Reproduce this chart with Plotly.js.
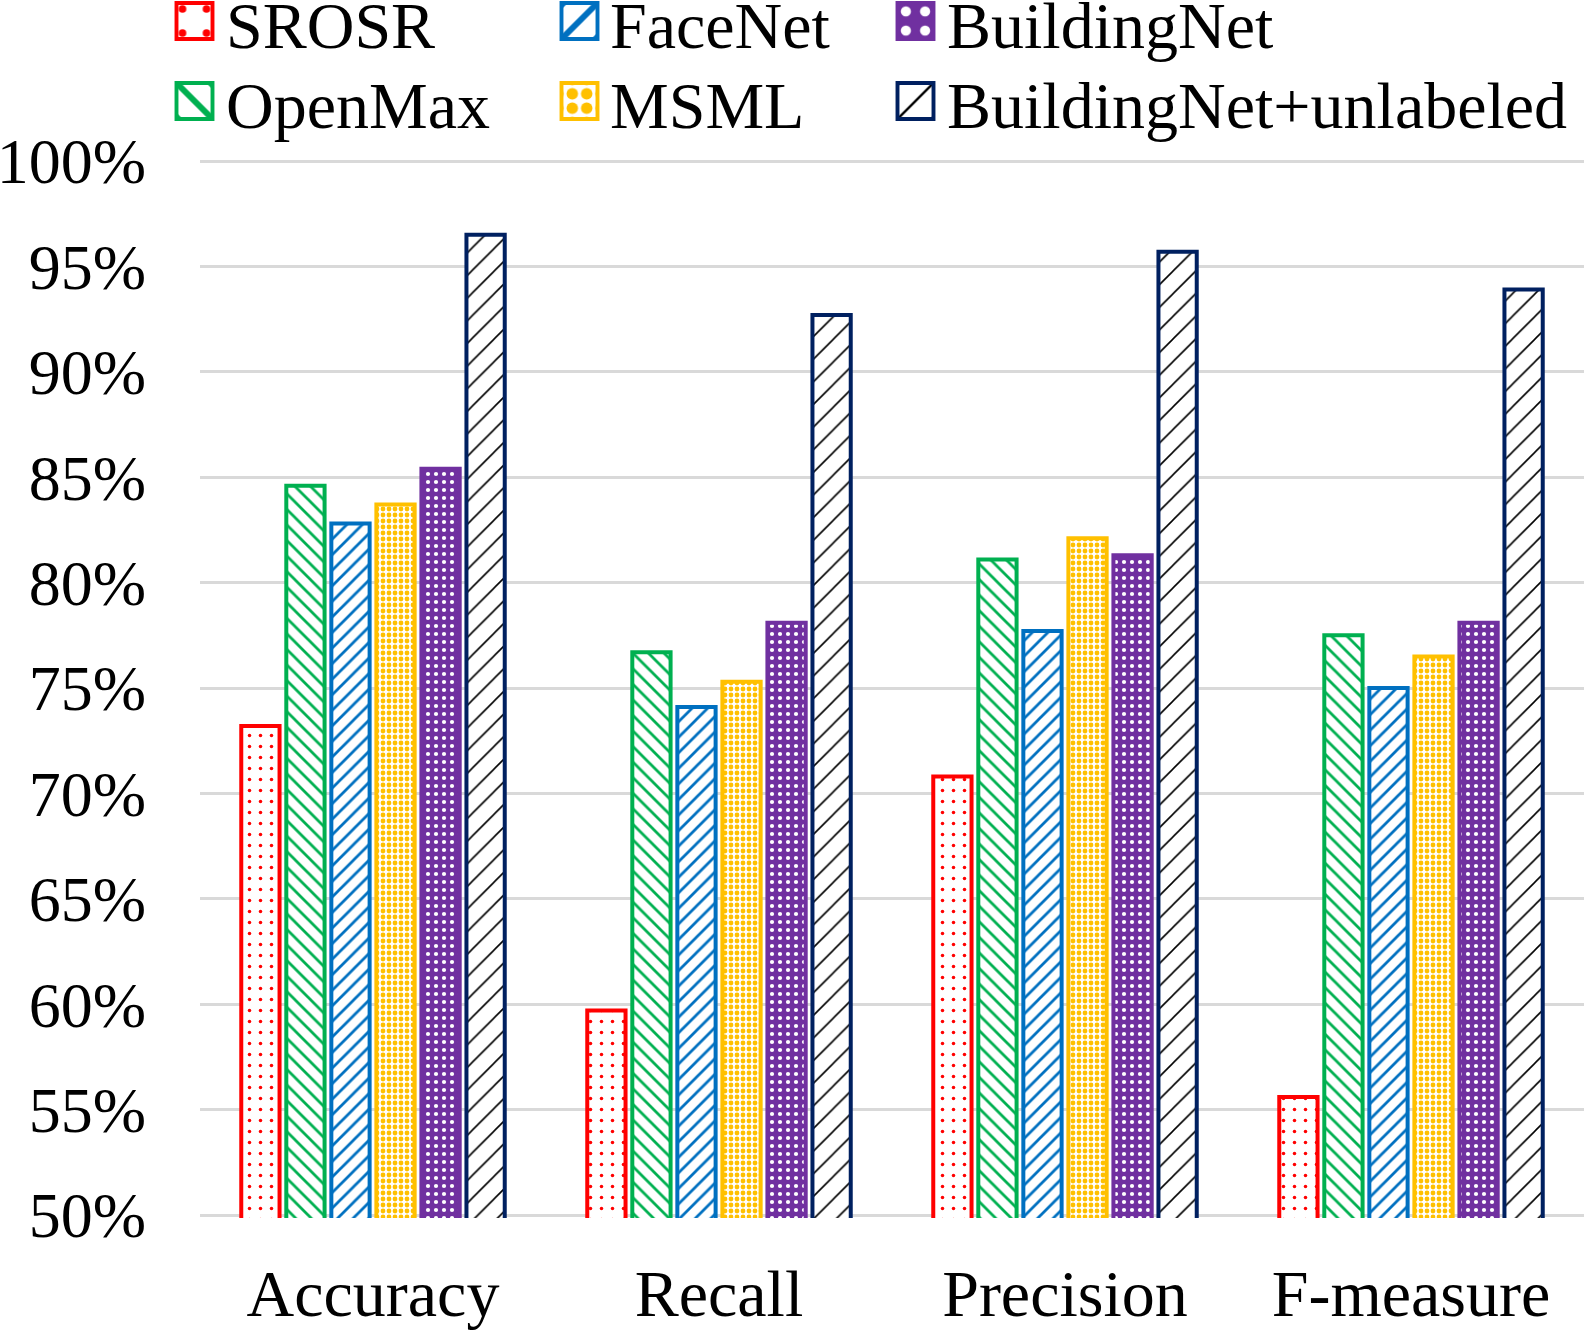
<!DOCTYPE html>
<html><head><meta charset="utf-8">
<script src="https://cdn.plot.ly/plotly-3.0.1.min.js"></script>
<style>html,body{margin:0;padding:0;background:#fff}#chart{width:1584px;height:1331px}</style>
</head><body><div id="chart"></div>
<script>
// ---- data ----
const categories = ['Accuracy', 'Recall', 'Precision', 'F-measure'];
const seriesNames = ['SROSR', 'OpenMax', 'FaceNet', 'MSML', 'BuildingNet', 'BuildingNet+unlabeled'];
const srosr = [73.2, 59.7, 70.8, 55.6];
const openmax = [84.6, 76.7, 81.1, 77.5];
const facenet = [82.8, 74.1, 77.7, 75.0];
const msml = [83.7, 75.3, 82.1, 76.5];
const buildingnet = [85.4, 78.1, 81.3, 78.1];
const buildingnetUnlabeled = [96.5, 92.7, 95.7, 93.9];
const yTickVals = [50, 55, 60, 65, 70, 75, 80, 85, 90, 95, 100];
const yTickText = ['50%', '55%', '60%', '65%', '70%', '75%', '80%', '85%', '90%', '95%', '100%'];

// ---- styles ----
const FONT = "'Liberation Serif', 'Times New Roman', serif";
const W = 1584, H = 1331;
const PAD = 3 / 21.08; // small range padding so the 50% and 100% gridlines are drawn
const seriesValues = [srosr, openmax, facenet, msml, buildingnet, buildingnetUnlabeled];
const lineColors = ['#FF0000', '#00B050', '#0070C0', '#FFC000', '#7030A0', '#002060'];
const patterns = [
  {shape: '.', fgcolor: '#FF0000', bgcolor: '#FFFFFF', size: 11, solidity: 0.08},
  {shape: '\\', fgcolor: '#00B050', bgcolor: '#FFFFFF', size: 11, solidity: 0.25},
  {shape: '/', fgcolor: '#0070C0', bgcolor: '#FFFFFF', size: 11, solidity: 0.25},
  {shape: '.', fgcolor: '#FFC000', bgcolor: '#FFFFFF', size: 6, solidity: 0.5},
  {shape: '.', fgcolor: '#FFFFFF', bgcolor: '#7030A0', size: 8, solidity: 0.22},
  {shape: '/', fgcolor: '#000000', bgcolor: '#FFFFFF', size: 16, solidity: 0.1}
];
// legend placement (px): legend id -> [symbol center x, symbol center y, text start x]
const legendIds = ['legend', 'legend4', 'legend2', 'legend5', 'legend3', 'legend6'];
const legendPos = {
  legend:  [194.5, 21, 227], legend2: [579.5, 21, 611], legend3: [915.5, 21, 948],
  legend4: [194.5, 101, 227], legend5: [579.5, 101, 611], legend6: [915.5, 101, 948]
};
const ITEMW = 55;

const traces = seriesNames.map((name, i) => ({
  type: 'bar',
  name: name,
  x: categories,
  y: seriesValues[i],
  legend: legendIds[i],
  marker: {
    color: patterns[i].bgcolor,
    line: {color: lineColors[i], width: 4},
    pattern: Object.assign({fillmode: 'replace'}, patterns[i])
  },
  hoverinfo: 'skip'
}));

const layout = {
  width: W, height: H,
  paper_bgcolor: '#FFFFFF', plot_bgcolor: '#FFFFFF',
  margin: {l: 200, r: 0, t: 158, b: 113, pad: 0, autoexpand: false},
  barmode: 'group',
  bargap: 0.219,
  bargroupgap: 0.15,
  font: {family: FONT, color: '#000000', size: 62},
  xaxis: {
    type: 'category', automargin: false,
    showgrid: false, zeroline: false, showline: false, ticks: '',
    tickfont: {family: FONT, size: 66, color: '#000000'},
    ticklabelstandoff: 31
  },
  yaxis: {
    range: [50 - PAD, 100 + PAD], automargin: false,
    tickmode: 'array', tickvals: yTickVals, ticktext: yTickText,
    showgrid: true, gridcolor: '#D9D9D9', gridwidth: 3,
    zeroline: false, showline: false, ticks: '',
    tickfont: {family: FONT, size: 64, color: '#000000'},
    ticklabelstandoff: 53
  },
  showlegend: true
};
Object.keys(legendPos).forEach(id => {
  const [cx, cy, tx] = legendPos[id];
  layout[id] = {
    x: (tx - ITEMW - 11) / W, y: 1 - (cy + 1) / H,
    xref: 'container', yref: 'container',
    xanchor: 'left', yanchor: 'middle',
    orientation: 'v', bgcolor: 'rgba(0,0,0,0)', borderwidth: 0,
    itemwidth: ITEMW,
    font: {family: FONT, size: 66, color: '#000000'}
  };
});

Plotly.newPlot('chart', traces, layout, {displayModeBar: false, staticPlot: true}).then(() => {
  const root = document.getElementById('chart');
  const rootRect = root.getBoundingClientRect();
  root.querySelectorAll('[clip-path]').forEach(el => {
    if (el.closest('.infolayer')) el.removeAttribute('clip-path');
  });
  Object.keys(legendPos).forEach(id => {
    const g = root.querySelector('g.' + id);
    if (!g) return;
    const [cx, cy] = legendPos[id];
    g.querySelectorAll('.legendpoints path').forEach(p => {
      p.removeAttribute('transform');
      const r = p.getBoundingClientRect();
      const ox = r.left + r.width / 2 - rootRect.left;
      const oy = r.top + r.height / 2 - rootRect.top;
      p.setAttribute('transform', 'translate(' + (cx - ox) + ',' + (cy - oy) + ') scale(3)');
      p.style.strokeWidth = '1.3px';
    });
  });
});
</script>
</body></html>
